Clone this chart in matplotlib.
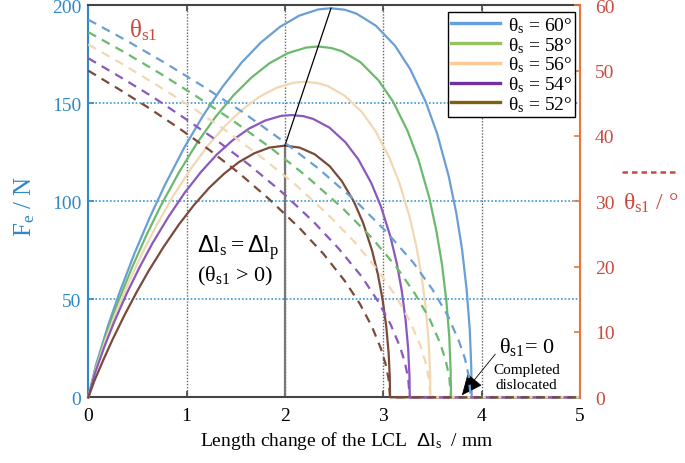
"""Elastic force F_e and residual angle theta_s1 versus LCL length change."""

import matplotlib

matplotlib.use("Agg")
import matplotlib.pyplot as plt
from matplotlib.lines import Line2D

plt.rcParams["font.family"] = ["Liberation Serif", "DejaVu Serif"]
plt.rcParams["mathtext.fontset"] = "custom"
plt.rcParams["mathtext.rm"] = "Liberation Serif"
plt.rcParams["mathtext.it"] = "Liberation Serif"
plt.rcParams["mathtext.sf"] = "Liberation Sans"
plt.rcParams["mathtext.default"] = "rm"

ANGLES = [60, 58, 56, 54, 52]

# Force curves F_e (N) against length change (mm)
FE_X_60 = [0, 0.078, 0.195, 0.312, 0.468, 0.624, 0.78, 0.975, 1.17, 1.365, 1.56, 1.755, 1.95, 2.145, 2.34,
           2.469, 2.613, 2.73, 2.925, 3.12, 3.276, 3.432, 3.549, 3.666, 3.744, 3.803, 3.849, 3.881, 3.896, 3.9, 5.0]
FE_Y_60 = [0, 16.5, 35.7, 52.7, 73.2, 91.6, 108.4, 127.3, 143.9, 158.4, 170.8, 181.0, 189.0, 194.7, 197.9,
           198.5, 197.7, 195.7, 189.6, 179.4, 167.3, 150.8, 134.5, 112.9, 93.9, 75.2, 54.8, 34.2, 15.4, 0, 0]
FE_X_58 = [0, 0.074, 0.185, 0.295, 0.443, 0.590, 0.738, 0.923, 1.107, 1.292, 1.476, 1.661, 1.845, 2.030, 2.214,
           2.336, 2.472, 2.583, 2.768, 2.952, 3.100, 3.247, 3.358, 3.469, 3.542, 3.598, 3.642, 3.672, 3.686, 3.69, 5.0]
FE_Y_58 = [0, 14.8, 32.2, 47.6, 66.0, 82.6, 97.8, 114.8, 129.8, 142.9, 154.0, 163.2, 170.5, 175.6, 178.4,
           179.0, 178.2, 176.5, 171.0, 161.7, 150.9, 136.0, 121.3, 101.8, 84.6, 67.8, 49.4, 30.9, 13.9, 0, 0]
FE_X_56 = [0, 0.070, 0.174, 0.278, 0.418, 0.557, 0.696, 0.870, 1.044, 1.218, 1.392, 1.566, 1.740, 1.914, 2.088,
           2.203, 2.332, 2.436, 2.610, 2.784, 2.923, 3.062, 3.167, 3.271, 3.341, 3.393, 3.435, 3.463, 3.477, 3.48, 5.0]
FE_Y_56 = [0, 13.3, 29.0, 42.8, 59.4, 74.3, 87.9, 103.2, 116.7, 128.5, 138.5, 146.8, 153.3, 157.9, 160.5,
           161.0, 160.3, 158.8, 153.8, 145.5, 135.7, 122.3, 109.1, 91.6, 76.1, 61.0, 44.5, 27.8, 12.5, 0, 0]
FE_X_54 = [0, 0.065, 0.164, 0.262, 0.392, 0.523, 0.654, 0.818, 0.981, 1.145, 1.308, 1.472, 1.635, 1.799, 1.962,
           2.070, 2.191, 2.289, 2.453, 2.616, 2.747, 2.878, 2.976, 3.074, 3.139, 3.188, 3.227, 3.254, 3.267, 3.27, 5.0]
FE_Y_54 = [0, 11.9, 25.9, 38.3, 53.1, 66.5, 78.7, 92.3, 104.4, 114.9, 123.9, 131.3, 137.1, 141.2, 143.6,
           144.0, 143.4, 142.0, 137.6, 130.1, 121.4, 109.4, 97.5, 81.9, 68.1, 54.6, 39.8, 24.8, 11.1, 0, 0]
FE_X_52 = [0, 0.061, 0.154, 0.246, 0.368, 0.491, 0.614, 0.768, 0.921, 1.075, 1.228, 1.382, 1.535, 1.689, 1.842,
           2.0, 2.149, 2.303, 2.456, 2.579, 2.702, 2.794, 2.886, 2.947, 2.993, 3.030, 3.055, 3.067, 3.07, 5.0]
FE_Y_52 = [0, 8.3, 19.2, 29.4, 41.9, 53.6, 64.5, 76.9, 88.1, 98.1, 106.8, 114.1, 120.1, 124.5, 127.4,
           128.4, 127.4, 124.0, 117.9, 110.3, 99.8, 89.2, 75.0, 62.5, 50.1, 36.6, 22.9, 10.3, 0, 0]

# Residual angle theta_s1 (deg) against length change (mm)
TH_X_60 = [0, 0.389, 0.778, 1.167, 1.556, 1.945, 2.334, 2.723, 3.034, 3.307, 3.501, 3.657, 3.773, 3.832, 3.871, 3.89, 5.0]
TH_Y_60 = [57.8, 54.6, 51.2, 47.6, 43.8, 39.6, 35.1, 30.0, 25.3, 20.6, 16.5, 12.5, 8.5, 5.9, 3.2, 0, 0]
TH_X_58 = [0, 0.369, 0.738, 1.107, 1.476, 1.845, 2.214, 2.583, 2.878, 3.137, 3.321, 3.469, 3.579, 3.635, 3.672, 3.69, 5.0]
TH_Y_58 = [55.9, 52.8, 49.5, 46.0, 42.3, 38.3, 33.9, 29.0, 24.5, 19.9, 15.9, 12.1, 8.3, 5.7, 3.1, 0, 0]
TH_X_56 = [0, 0.348, 0.696, 1.044, 1.392, 1.74, 2.088, 2.436, 2.714, 2.958, 3.132, 3.271, 3.376, 3.428, 3.463, 3.48, 5.0]
TH_Y_56 = [54.0, 51.0, 47.8, 44.5, 40.9, 37.0, 32.8, 28.0, 23.7, 19.2, 15.4, 11.7, 8.0, 5.5, 3.0, 0, 0]
TH_X_54 = [0, 0.327, 0.654, 0.981, 1.308, 1.635, 1.962, 2.289, 2.551, 2.780, 2.943, 3.074, 3.172, 3.221, 3.254, 3.27, 5.0]
TH_Y_54 = [51.9, 49.0, 46.0, 42.7, 39.3, 35.6, 31.5, 26.9, 22.7, 18.5, 14.8, 11.2, 7.7, 5.3, 2.9, 0, 0]
TH_X_52 = [0, 0.307, 0.614, 0.921, 1.228, 1.535, 1.842, 2.149, 2.395, 2.610, 2.763, 2.886, 2.978, 3.024, 3.055, 3.07, 5.0]
TH_Y_52 = [50.0, 47.2, 44.3, 41.2, 37.9, 34.3, 30.3, 25.9, 21.9, 17.8, 14.3, 10.8, 7.4, 5.1, 2.8, 0, 0]

FE_CURVES = [(FE_X_60, FE_Y_60), (FE_X_58, FE_Y_58), (FE_X_56, FE_Y_56), (FE_X_54, FE_Y_54), (FE_X_52, FE_Y_52)]
TH_CURVES = [(TH_X_60, TH_Y_60), (TH_X_58, TH_Y_58), (TH_X_56, TH_Y_56), (TH_X_54, TH_Y_54), (TH_X_52, TH_Y_52)]

# peak of the 52 deg and 60 deg force curves, joined by the guide line
PEAK_LOW = (2.0, 128.4)
PEAK_HIGH = (2.469, 198.5)

X_TICKS = [0, 1, 2, 3, 4, 5]
FE_TICKS = [0, 50, 100, 150, 200]
TH_TICKS = [0, 10, 20, 30, 40, 50, 60]

CURVE_COLORS = ["#6A9FD6", "#6BBA6B", "#F2D8B2", "#8A58BE", "#7A4A3A"]
LEGEND_COLORS = ["#64A0DC", "#97C35F", "#FFC896", "#7030A0", "#825F0F"]
BLUE = "#2F88C9"
RED = "#C84B41"
ORANGE = "#E8763A"

W, H = 685, 464


def fig_xy(px, py):
    return px / W, 1 - py / H


def main():
    fig = plt.figure(figsize=(W / 100, H / 100), dpi=100)
    ax = fig.add_axes([88.3 / W, 1 - 398.3 / H, 491.5 / W, 392 / H])
    ax2 = ax.twinx()

    ax.set_xlim(0, 5)
    ax.set_ylim(0, 200)
    ax2.set_ylim(0, 60)

    # grid: dotted gray verticals, dotted blue horizontals
    for xv in [1, 2, 3, 4]:
        ax.axvline(xv, color="#666666", lw=1.0, ls=(0, (1, 1.2)), zorder=1)
    for yv in [50, 100, 150]:
        ax.axhline(yv, color="#3D97D3", lw=1.2, ls=(0, (1, 1.2)), zorder=1)

    for (xs, ys), col in zip(FE_CURVES, CURVE_COLORS):
        ax.plot(xs, ys, color=col, lw=1.6, zorder=3, clip_on=False)
    for (xs, ys), col in zip(TH_CURVES, CURVE_COLORS):
        ax2.plot(xs, ys, color=col, lw=1.6, dashes=(4, 3), zorder=2, clip_on=False)

    ax.plot([PEAK_LOW[0], PEAK_LOW[0]], [0, PEAK_LOW[1]], color="#777777", lw=1.6, zorder=2)
    ax.plot([PEAK_LOW[0], PEAK_HIGH[0]], [PEAK_LOW[1], PEAK_HIGH[1]], color="black", lw=0.9, zorder=4)

    # spines and ticks
    ax.spines["left"].set_color(BLUE)
    ax.spines["left"].set_linewidth(1.5)
    for side in ["top", "bottom"]:
        ax.spines[side].set_color("#444444")
        ax.spines[side].set_linewidth(1.5)
    ax.spines["right"].set_visible(False)
    for side in ["left", "top", "bottom"]:
        ax2.spines[side].set_visible(False)
    ax2.spines["right"].set_color(ORANGE)
    ax2.spines["right"].set_linewidth(1.5)

    ax.set_xticks(X_TICKS)
    ax.set_yticks(FE_TICKS)
    ax2.set_yticks(TH_TICKS)
    ax.tick_params(axis="x", direction="in", top=True, length=4.5, width=1.2,
                   color="#444444", labelsize=14, pad=7)
    ax.tick_params(axis="y", direction="in", length=4.5, width=1.2, color=BLUE,
                   labelcolor=BLUE, labelsize=14, pad=5)
    ax2.tick_params(axis="y", direction="in", length=4.5, width=1.2, color=ORANGE,
                    labelcolor=RED, labelsize=14, pad=11)

    # axis titles
    fig.text(*fig_xy(25, 206), r"F$_{\rm e}$ / N", rotation=90, color=BLUE,
             fontsize=18, ha="center", va="center")
    fig.text(*fig_xy(347, 441), r"Length change of the LCL  $\mathsf{Δ}$l$_{\rm s}$  / mm",
             fontsize=14, ha="center", va="center")
    fig.text(*fig_xy(623, 203), r"$θ_{\rm s1}$ / °", color=RED, fontsize=17,
             ha="left", va="center")
    fig.add_artist(Line2D([622 / W, 675 / W], [1 - 173 / H] * 2, transform=fig.transFigure,
                          color=RED, lw=1.8, dashes=(2.2, 1.6)))

    # annotations
    ax.text(0.56, 188, r"$θ_{\rm s1}$", color=RED, fontsize=18, ha="center", va="center")
    ax.text(1.52, 77, r"$\mathsf{Δ}$l$_{\rm s}$$=$$\mathsf{Δ}$l$_{\rm p}$", fontsize=17,
            ha="center", va="center")
    ax.text(1.49, 62, r"($θ_{\rm s1}$ > 0)", fontsize=16, ha="center", va="center")
    ax.text(4.46, 26, r"$θ_{\rm s1}$= 0", fontsize=16, ha="center", va="center")
    ax.text(4.46, 14, "Completed", fontsize=11, ha="center", va="center")
    ax.text(4.46, 6.3, "dislocated", fontsize=11, ha="center", va="center")
    ax.annotate("", xy=(3.80, 1.0), xytext=(4.14, 22),
                arrowprops=dict(arrowstyle="-|>,head_length=0.9,head_width=0.4",
                                mutation_scale=15, color="black", lw=0.6,
                                shrinkA=0, shrinkB=0),
                zorder=6)

    handles = [Line2D([], [], color=c, lw=2.4) for c in LEGEND_COLORS]
    labels = [r"$θ_{\rm s}$ = %d°" % a for a in ANGLES]
    leg = ax2.legend(handles, labels, loc="upper right", bbox_to_anchor=(0.990, 0.982),
                     fontsize=14, frameon=True, fancybox=False, framealpha=1,
                     edgecolor="black", borderpad=0.15, labelspacing=0.0,
                     handlelength=2.5, handletextpad=0.4, borderaxespad=0)
    leg.get_frame().set_linewidth(1.0)

    fig.savefig("out.png", dpi=100)
    plt.close(fig)


if __name__ == "__main__":
    main()
